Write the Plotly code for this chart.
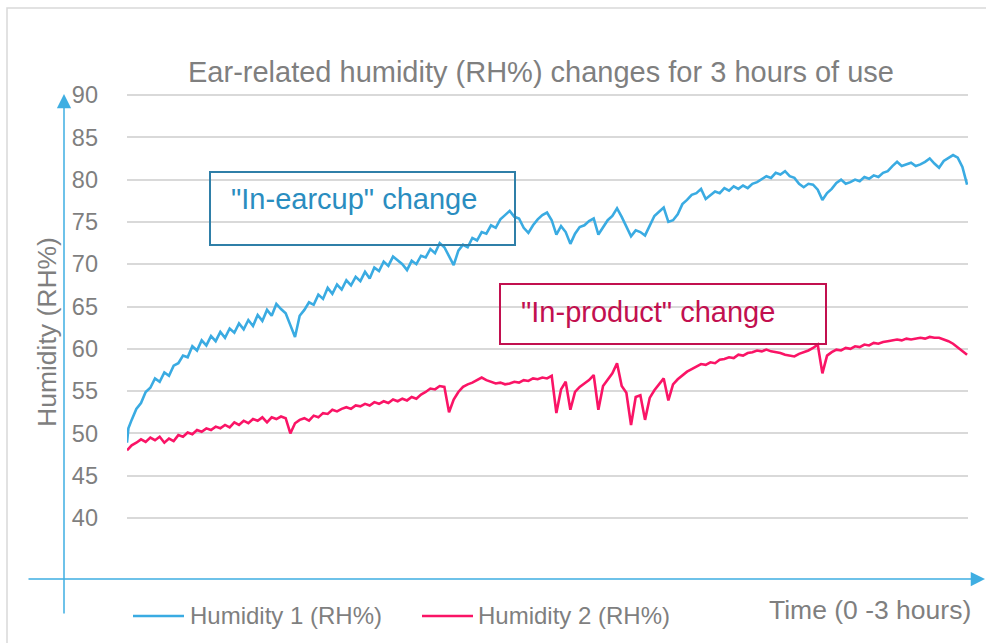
import plotly.graph_objects as go

# ---------------- data ----------------
blue_time = [0, 0.3] + list(range(1, 181))          # minutes
humidity_1 = [
    48.9, 50.6,
    51.6, 52.9, 53.6, 54.9, 55.4, 56.5, 56.1, 57.2, 56.8, 58.0,
    58.3, 59.2, 59.0, 60.3, 59.8, 61.0, 60.4, 61.5, 60.9, 62.0,
    61.3, 62.4, 61.9, 63.0, 62.3, 63.4, 62.7, 64.0, 63.3, 64.6,
    63.9, 65.3, 64.7, 64.2, 62.8, 61.4, 63.9, 64.6, 65.5, 65.2,
    66.4, 65.9, 67.2, 66.5, 67.6, 67.0, 68.1, 67.5, 68.5, 68.0,
    69.1, 68.3, 69.6, 69.2, 70.3, 69.8, 70.9, 70.4, 70.0, 69.3,
    70.4, 70.0, 71.0, 70.8, 71.8, 71.3, 72.5, 72.0, 71.0, 69.9,
    71.6, 72.3, 72.0, 73.1, 72.8, 73.8, 73.6, 74.6, 74.3, 75.3,
    75.8, 76.3, 75.6, 75.4, 74.3, 73.7, 74.6, 75.3, 75.8, 76.1,
    75.2, 73.5, 74.5, 73.8, 72.4, 73.6, 74.4, 74.6, 75.1, 75.4,
    73.5, 74.4, 75.2, 75.7, 76.6, 75.6, 74.4, 73.3, 74.0, 73.8,
    73.4, 74.6, 75.7, 76.2, 76.7, 75.0, 75.2, 75.9, 77.1, 77.6,
    78.2, 78.4, 78.9, 77.7, 78.2, 78.6, 78.4, 79.0, 78.7, 79.2,
    78.9, 79.3, 79.0, 79.5, 79.7, 80.1, 80.4, 80.2, 80.8, 80.6,
    81.0, 80.4, 80.2, 79.5, 79.1, 79.5, 79.4, 78.8, 77.6, 78.4,
    78.9, 79.6, 80.0, 79.5, 79.7, 80.0, 79.8, 80.3, 80.1, 80.5,
    80.3, 80.8, 81.0, 81.6, 82.1, 81.6, 81.8, 82.0, 81.6, 81.8,
    82.1, 82.5, 81.9, 81.4, 82.2, 82.6, 82.9, 82.6, 81.5, 79.4,
]

pink_time = list(range(0, 181))                      # minutes
humidity_2 = [
    48.0,
    48.6, 48.9, 49.3, 49.0, 49.5, 49.2, 49.6, 48.9, 49.4, 49.1,
    49.8, 49.6, 50.1, 49.9, 50.4, 50.2, 50.6, 50.4, 50.8, 50.6,
    51.0, 50.7, 51.3, 51.0, 51.5, 51.2, 51.7, 51.5, 51.9, 51.3,
    51.9, 51.7, 52.0, 51.8, 50.0, 51.2, 51.6, 51.8, 51.5, 52.1,
    51.9, 52.4, 52.3, 52.8, 52.6, 52.9, 53.1, 52.9, 53.3, 53.2,
    53.5, 53.3, 53.7, 53.5, 53.8, 53.6, 54.0, 53.8, 54.1, 53.9,
    54.3, 54.1, 54.6, 54.9, 55.3, 55.2, 55.6, 55.5, 52.5, 54.0,
    54.9, 55.5, 55.8, 56.0, 56.3, 56.6, 56.3, 56.1, 55.9, 56.0,
    55.8, 55.9, 56.1, 56.0, 56.3, 56.2, 56.5, 56.4, 56.6, 56.5,
    56.8, 52.4, 55.2, 56.1, 52.8, 54.9, 55.5, 55.9, 56.3, 56.9,
    52.8, 55.6, 56.4, 57.1, 58.3, 55.6, 54.8, 51.0, 54.3, 54.5,
    51.6, 54.2, 55.1, 55.8, 56.5, 53.9, 55.8, 56.4, 56.9, 57.3,
    57.6, 57.9, 58.2, 58.1, 58.4, 58.3, 58.7, 58.8, 59.0, 58.9,
    59.3, 59.2, 59.5, 59.6, 59.8, 59.7, 59.9, 59.7, 59.6, 59.5,
    59.3, 59.2, 59.1, 59.4, 59.6, 59.8, 60.1, 60.5, 57.1, 59.2,
    59.6, 59.9, 59.8, 60.1, 60.0, 60.3, 60.2, 60.5, 60.4, 60.7,
    60.6, 60.8, 60.9, 61.0, 61.1, 61.0, 61.2, 61.1, 61.2, 61.3,
    61.2, 61.4, 61.3, 61.3, 61.1, 60.9, 60.6, 60.2, 59.7, 59.3,
]

y_ticks = [40, 45, 50, 55, 60, 65, 70, 75, 80, 85, 90]
series_names = ["Humidity 1 (RH%)", "Humidity 2 (RH%)"]
title_text = "Ear-related humidity (RH%) changes for 3 hours of use"
y_title = "Humidity (RH%)"
x_title = "Time (0 -3 hours)"
note_1 = '"In-earcup" change'
note_2 = '"In-product" change'

# ---------------- styling ----------------
W, H = 986, 643
L, R, T, B = 127, 18, 91, 66
FONT = "Liberation Sans, Arial, sans-serif"
GRAY = "#7F7F7F"
BLUE = "#3AABE2"
PINK = "#FA1466"
ARROW = "#3FAEE2"


def px2x(px):
    return (px - L) / (W - L - R)


def py2y(py):
    return (H - B - py) / (H - T - B)


fig = go.Figure()
fig.add_trace(go.Scatter(x=blue_time, y=humidity_1, mode="lines", name=series_names[0],
                         line=dict(color=BLUE, width=2.6)))
fig.add_trace(go.Scatter(x=pink_time, y=humidity_2, mode="lines", name=series_names[1],
                         line=dict(color=PINK, width=2.6)))

shapes = [
    # outer chart border
    dict(type="rect", xref="paper", yref="paper", x0=px2x(7), x1=px2x(992),
         y0=py2y(8), y1=py2y(650), line=dict(color="#D9D9D9", width=1.5)),
    # annotation boxes
    dict(type="rect", xref="paper", yref="paper", x0=px2x(210), x1=px2x(515),
         y0=py2y(172), y1=py2y(245), line=dict(color="#2F7FA8", width=2)),
    dict(type="rect", xref="paper", yref="paper", x0=px2x(500), x1=px2x(826),
         y0=py2y(284), y1=py2y(344), line=dict(color="#C2104F", width=2)),
    # manual legend samples
    dict(type="line", xref="paper", yref="paper", x0=px2x(133), x1=px2x(184),
         y0=py2y(616), y1=py2y(616), line=dict(color=BLUE, width=2.6)),
    dict(type="line", xref="paper", yref="paper", x0=px2x(422), x1=px2x(473),
         y0=py2y(616), y1=py2y(616), line=dict(color=PINK, width=2.6)),
]

annotations = [
    dict(text=title_text, xref="paper", yref="paper", x=px2x(541), y=py2y(72),
         showarrow=False, font=dict(family=FONT, size=29, color=GRAY),
         xanchor="center", yanchor="middle"),
    dict(text=y_title, xref="paper", yref="paper", x=px2x(47), y=py2y(332),
         showarrow=False, textangle=-90, font=dict(family=FONT, size=26.5, color=GRAY),
         xanchor="center", yanchor="middle"),
    dict(text=x_title, xref="paper", yref="paper", x=px2x(973), y=py2y(610),
         showarrow=False, font=dict(family=FONT, size=26.5, color=GRAY),
         xanchor="right", yanchor="middle"),
    dict(text=series_names[0], xref="paper", yref="paper", x=px2x(188), y=py2y(615),
         showarrow=False, font=dict(family=FONT, size=24, color=GRAY),
         xanchor="left", yanchor="middle"),
    dict(text=series_names[1], xref="paper", yref="paper", x=px2x(476), y=py2y(615),
         showarrow=False, font=dict(family=FONT, size=24, color=GRAY),
         xanchor="left", yanchor="middle"),
    dict(text=note_1, xref="paper", yref="paper", x=px2x(229), y=py2y(199),
         showarrow=False, font=dict(family=FONT, size=29, color="#2A8DC0"),
         xanchor="left", yanchor="middle"),
    dict(text=note_2, xref="paper", yref="paper", x=px2x(519), y=py2y(312),
         showarrow=False, font=dict(family=FONT, size=29, color="#C2104F"),
         xanchor="left", yanchor="middle"),
    # axis arrows
    dict(text="", xref="paper", yref="paper", x=px2x(64), y=py2y(94),
         ax=0, ay=521, showarrow=True, arrowhead=2, arrowsize=1.9, arrowwidth=1.5,
         arrowcolor=ARROW, standoff=0),
    dict(text="", xref="paper", yref="paper", x=px2x(986), y=py2y(579),
         ax=-959, ay=0, showarrow=True, arrowhead=2, arrowsize=1.9, arrowwidth=1.5,
         arrowcolor=ARROW, standoff=0),
]

fig.update_layout(
    width=W, height=H,
    margin=dict(l=L, r=R, t=T, b=B),
    paper_bgcolor="white", plot_bgcolor="white",
    showlegend=False,
    shapes=shapes,
    annotations=annotations,
    xaxis=dict(range=[0, 180.2], showgrid=False, zeroline=False, showticklabels=False,
               showline=False, ticks=""),
    yaxis=dict(range=[33.03, 90.47], tickvals=y_ticks, showgrid=True,
               gridcolor="#D9D9D9", gridwidth=1.5, zeroline=False, showline=False,
               ticks="", ticklabelstandoff=28,
               tickfont=dict(family=FONT, size=23.5, color=GRAY)),
)

fig.write_html(
    "out.html",
    config={"displayModeBar": False},
    post_script="document.body.style.margin='0px';document.body.style.overflow='hidden';",
)
